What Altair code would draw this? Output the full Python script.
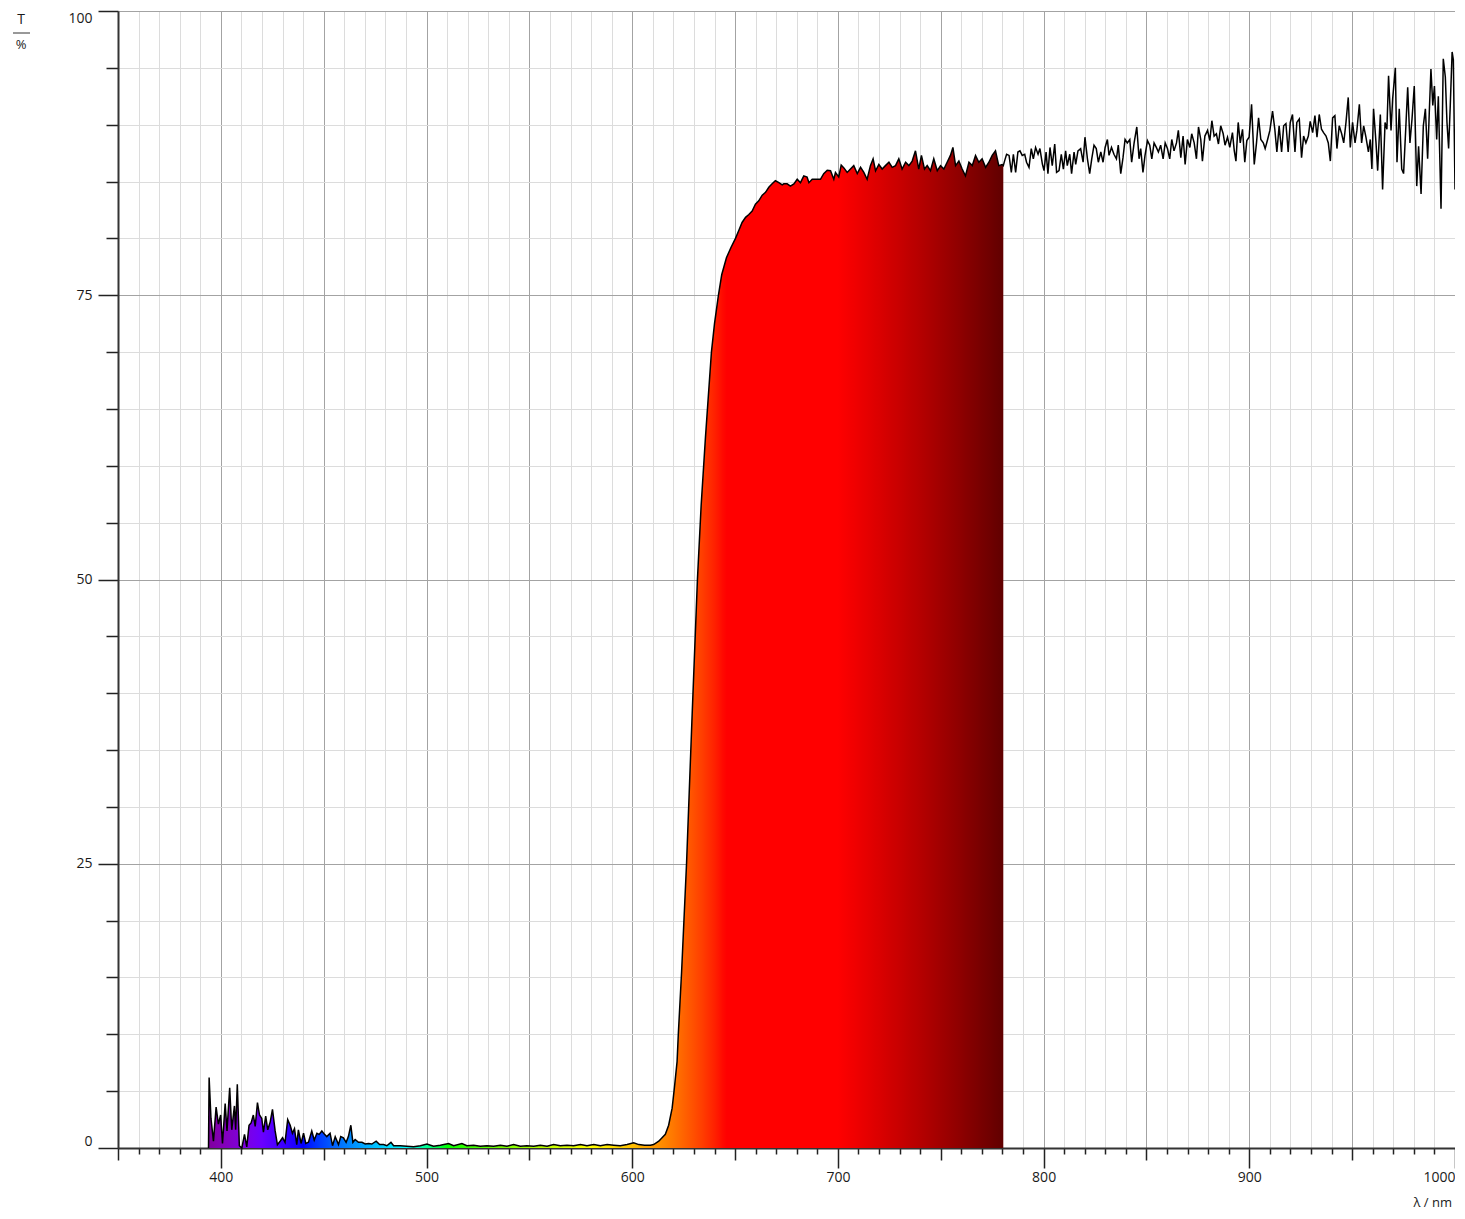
import altair as alt
import pandas as pd

# ---- data (wavelength nm, transmission %) ----
wl_violet = [394.0, 394.3, 395.2, 396.4, 397.7, 398.8, 399.9, 400.8, 402.1, 403.0, 404.3, 405.3,
             406.6, 407.2, 408.0, 409.0, 410.2, 411.5, 412.6, 413.7, 414.7, 415.8, 416.7, 417.8,
             418.8, 419.9, 420.7, 421.8, 422.8, 424.0, 425.1, 426.4, 427.5, 428.8, 430.0, 431.2,
             432.5, 433.7, 434.8, 435.8, 436.9, 437.7, 439.0, 440.2, 441.3, 442.6, 444.2, 445.4,
             446.7, 447.8, 449.1, 450.4, 451.5, 453.1, 454.3, 455.6, 457.2, 458.3, 459.6, 460.9,
             462.0, 463.2, 464.2, 465.3, 466.9, 468.6, 470.2, 471.8, 473.4, 475.5, 477.2, 479.1,
             480.7, 482.7, 484.0]
t_violet = [0.0, 6.2, 2.6, 0.6, 3.6, 2.1, 2.9, 0.4, 3.9, 1.5, 5.3, 1.6,
            3.7, 1.6, 5.6, 0.2, 0.0, 1.2, 0.1, 2.0, 2.2, 2.9, 1.9, 4.0,
            2.9, 2.6, 1.4, 2.8, 1.6, 2.3, 3.4, 1.5, 0.3, 0.6, 0.9, 0.5,
            2.5, 2.0, 1.3, 1.7, 0.3, 1.6, 0.4, 1.3, 0.4, 0.5, 1.5, 0.7,
            1.3, 1.2, 1.5, 1.2, 1.0, 1.3, 0.2, 1.0, 0.3, 1.0, 0.9, 0.5,
            1.0, 2.0, 0.5, 0.75, 0.5, 0.5, 0.35, 0.4, 0.35, 0.6, 0.3, 0.3,
            0.2, 0.5, 0.2]

wl_low = [487.2, 490.4, 493.7, 497.0, 500.2, 503.4, 506.7, 510.7, 513.2, 517.2, 519.6, 522.9,
          526.1, 529.4, 532.6, 535.9, 539.1, 542.3, 545.6, 548.8, 552.1, 555.3, 558.6, 561.8,
          565.0, 568.3, 571.5, 574.8, 578.0, 581.3, 584.5, 587.8, 591.0, 594.2, 597.5, 600.7,
          603.2, 606.0, 608.8, 610.4, 612.9]
t_low = [0.2, 0.15, 0.1, 0.2, 0.35, 0.15, 0.25, 0.4, 0.2, 0.4, 0.2, 0.25,
         0.15, 0.2, 0.15, 0.25, 0.15, 0.3, 0.15, 0.2, 0.15, 0.25, 0.15, 0.3,
         0.2, 0.25, 0.2, 0.3, 0.2, 0.3, 0.2, 0.3, 0.25, 0.2, 0.3, 0.45,
         0.3, 0.25, 0.25, 0.3, 0.6]

wl_edge = [614.5, 616.1, 617.7, 619.4, 620.5, 621.8, 622.4, 624.0, 626.4, 629.0, 631.7, 633.5,
           635.6, 638.5, 640.0, 641.9, 643.5, 645.8, 648.0, 650.2]
t_edge = [0.9, 1.2, 2.0, 3.5, 5.3, 7.6, 10.0, 15.5, 25.0, 37.5, 50.0, 56.5,
          62.5, 70.0, 72.5, 75.0, 76.8, 78.3, 79.2, 80.0]

wl_plateau = [651.8, 653.4, 655.1, 656.7, 658.3, 659.9, 661.5, 663.2, 664.8, 666.4, 668.0, 669.6,
              671.3, 672.9, 673.7, 675.3, 676.9, 678.6, 680.2, 681.8, 683.4, 685.0, 685.9, 687.5,
              689.9, 691.5, 693.1, 694.8, 696.4, 698.0, 698.8, 700.4, 701.6, 702.9, 704.5, 706.1,
              707.7, 709.4, 711.0, 712.6, 714.2, 715.8, 717.1, 718.3, 719.9, 721.5, 723.1, 724.8,
              726.4, 728.0, 729.6, 731.2, 732.9, 734.5, 736.1, 737.7, 739.3, 740.6, 742.1, 743.4,
              745.0, 746.6, 748.3, 749.9, 751.5, 753.1, 754.7, 755.9, 757.2, 758.8, 760.4, 762.0,
              763.7, 765.3, 766.9, 768.5, 770.1, 771.8, 773.4, 775.0, 776.6, 778.2, 779.8, 780.4]
t_plateau = [80.7, 81.4, 81.85, 82.1, 82.4, 83.0, 83.3, 83.8, 84.05, 84.5, 84.8, 85.07,
             84.9, 84.7, 84.8, 84.8, 84.6, 84.8, 85.2, 84.9, 85.5, 85.4, 84.9, 85.2,
             85.2, 85.2, 85.7, 86.0, 85.95, 85.2, 85.8, 85.4, 86.45, 86.2, 85.8, 86.1,
             86.4, 85.7, 86.25, 85.8, 85.2, 86.4, 87.0, 85.95, 86.5, 86.1, 86.4, 86.7,
             86.25, 86.4, 87.0, 86.1, 86.7, 86.4, 86.8, 87.7, 86.1, 87.3, 86.1, 86.4,
             85.95, 87.0, 85.95, 86.4, 86.1, 86.7, 87.3, 88.0, 86.4, 86.8, 86.1, 85.5,
             86.7, 86.4, 87.3, 86.7, 87.0, 86.25, 86.7, 87.3, 87.7, 86.4, 86.5, 86.4]

wl_nir = [781.0, 782.0, 783.2, 784.3, 785.3, 786.4, 787.5, 788.5, 789.6, 790.8, 791.7, 792.9,
          794.0, 795.0, 796.1, 797.3, 798.2, 799.4, 800.2, 801.2, 802.1, 803.1, 804.2, 805.4,
          806.3, 807.5, 808.6, 809.6, 810.7, 811.5, 812.7, 813.6, 814.8, 815.6, 816.7, 818.0,
          819.2, 820.1, 821.3, 822.4, 823.4, 824.5, 825.6, 826.6, 827.8, 828.9, 829.9, 831.0,
          831.8, 833.0, 834.2, 835.4, 836.3, 837.5, 838.6, 839.6, 840.7, 841.9, 842.8, 844.0,
          845.3, 846.4, 847.2, 848.3, 849.3, 850.5, 851.6, 852.6, 853.7, 854.8, 855.8, 856.9,
          858.1, 859.1, 860.2, 861.3, 862.3, 863.4, 864.6, 865.5, 866.7, 867.8, 868.8, 869.9,
          871.1, 872.0, 873.2, 874.3, 875.3, 876.4, 877.2, 878.4, 879.7, 880.8, 881.8, 882.9,
          884.0, 885.0, 886.1, 887.3, 888.2, 889.4, 890.5, 891.8, 892.7, 893.5, 894.6, 895.6,
          896.7, 897.8, 898.8, 899.9, 901.1, 902.4, 903.5, 904.5, 905.6, 906.8, 907.7, 908.9,
          910.0, 911.3, 912.4, 913.4, 914.5, 915.7, 916.7, 917.8, 918.9, 919.9, 921.0, 922.2,
          923.1, 924.3, 925.4, 926.4, 927.5, 928.7, 929.6, 930.8, 931.9, 932.9, 934.0, 935.1,
          936.1, 937.3, 938.4, 939.4, 940.5, 941.6, 942.6, 943.7, 944.9, 945.9, 947.0, 948.1,
          949.1, 950.2, 951.4, 952.3, 953.5, 954.6, 955.6, 956.7, 957.9, 958.8, 959.6, 960.4,
          961.6, 962.4, 963.7, 964.8, 966.0, 966.9, 967.7, 968.9, 969.7, 971.0, 971.8, 972.9,
          974.1, 975.0, 976.2, 977.0, 978.1, 979.1, 980.2, 981.4, 982.3, 983.5, 984.6, 985.6,
          986.7, 987.5, 988.3, 989.2, 990.0, 991.1, 991.9, 993.2, 994.3, 995.3, 996.1, 996.9,
          997.7, 998.6, 999.2, 1000.0]
t_nir = [86.8, 87.4, 87.3, 85.8, 87.4, 85.8, 87.6, 87.7, 87.3, 87.4, 86.7, 86.25,
         87.9, 87.0, 88.0, 87.4, 87.9, 86.54, 85.96, 87.6, 85.7, 88.0, 86.4, 88.3,
         85.8, 85.96, 87.4, 86.1, 87.7, 86.4, 87.4, 85.7, 87.6, 86.5, 87.7, 87.9,
         86.7, 88.9, 87.0, 85.7, 87.0, 88.2, 87.9, 86.7, 87.6, 86.7, 88.0, 88.7,
         87.3, 88.0, 87.4, 87.0, 88.2, 85.7, 87.1, 88.7, 88.4, 88.7, 86.7, 88.4,
         89.8, 87.0, 87.9, 85.8, 87.3, 88.6, 88.2, 87.0, 88.4, 88.0, 87.6, 88.2,
         87.0, 88.4, 87.9, 87.0, 88.7, 87.7, 88.4, 89.5, 87.1, 89.0, 86.5, 88.7,
         88.0, 89.2, 88.4, 87.0, 89.8, 88.7, 86.8, 89.0, 89.5, 88.6, 90.35, 89.0,
         89.2, 88.3, 89.9, 89.2, 88.2, 88.9, 88.0, 89.3, 87.7, 86.8, 90.2, 88.4,
         89.6, 86.7, 88.6, 88.9, 91.8, 86.5, 88.4, 90.6, 88.7, 88.4, 87.9, 88.7,
         89.5, 91.2, 89.6, 87.6, 89.9, 87.6, 89.9, 90.1, 87.6, 90.2, 90.9, 87.6,
         90.2, 90.5, 87.1, 89.0, 88.4, 89.0, 90.3, 89.3, 90.8, 88.9, 90.9, 89.6,
         89.3, 89.0, 88.4, 86.8, 90.6, 90.8, 87.9, 89.9, 89.2, 88.4, 90.2, 92.4,
         88.0, 90.2, 88.4, 89.5, 91.8, 88.4, 89.9, 88.9, 87.6, 88.7, 86.1, 91.4,
         88.4, 85.96, 90.9, 84.3, 90.2, 89.6, 94.3, 89.5, 92.3, 95.0, 86.7, 91.4,
         86.1, 85.7, 90.2, 93.3, 88.4, 90.5, 93.4, 84.6, 88.1, 83.9, 89.9, 91.4,
         87.0, 91.1, 94.9, 91.7, 93.4, 88.7, 92.5, 82.6, 95.8, 94.2, 90.2, 87.9,
         91.7, 96.4, 95.7, 84.3]

x_tick_values = list(range(350, 1001, 10))
y_tick_values = list(range(0, 101, 5))

wl_all = wl_violet + wl_low + wl_edge + wl_plateau + wl_nir
t_all = t_violet + t_low + t_edge + t_plateau + t_nir
df = pd.DataFrame({"wl": wl_all, "T": t_all})

FILL_START, FILL_END = 394.0, 780.4


def wl_rgb(w):
    if w < 440:
        r, g, b = -(w - 440) / 60.0, 0.0, 1.0
    elif w < 490:
        r, g, b = 0.0, (w - 440) / 50.0, 1.0
    elif w < 510:
        r, g, b = 0.0, 1.0, -(w - 510) / 20.0
    elif w < 580:
        r, g, b = (w - 510) / 70.0, 1.0, 0.0
    elif w < 645:
        r, g, b = 1.0, -(w - 645) / 65.0, 0.0
    else:
        r, g, b = 1.0, 0.0, 0.0
    if w < 420:
        f = 0.3 + 0.7 * (w - 380) / 40.0
    elif w <= 700:
        f = 1.0
    else:
        f = 0.3 + 0.7 * (780 - w) / 80.0

    def c(v):
        return 0 if v <= 0 else int(round(255 * (v * f) ** 0.8))

    return "#%02x%02x%02x" % (c(r), c(g), c(b))


stops = []
w = FILL_START
while w <= FILL_END + 1e-9:
    stops.append(alt.GradientStop(offset=(w - FILL_START) / (FILL_END - FILL_START), color=wl_rgb(w)))
    w += 2.0
stops.append(alt.GradientStop(offset=1.0, color=wl_rgb(780.0)))

W, H = 1337, 1137
FONT = "Open Sans"

x_scale = alt.Scale(domain=[350, 1000], nice=False, zero=False)
y_scale = alt.Scale(domain=[0, 100], nice=False, zero=False)

x_axis = alt.Axis(
    values=x_tick_values,
    grid=True,
    gridColor={"condition": {"test": "datum.value % 50 === 0", "value": "#a3a3a3"}, "value": "#dcdcdc"},
    gridWidth=1,
    tickSize={"condition": [{"test": "datum.value % 100 === 0", "value": 20},
                            {"test": "datum.value % 50 === 0", "value": 12}], "value": 6},
    tickColor="#222222",
    tickWidth=1.5,
    domainColor="#333333",
    domainWidth=2,
    format="d",
    labelExpr="datum.value % 100 === 0 && datum.value >= 400 ? datum.label : ''",
    labelFlush=True,
    labelOverlap=False,
    labelPadding=2,
    labelFont=FONT,
    labelFontSize=14,
    labelColor="#1a1a1a",
    title=None,
)
y_axis = alt.Axis(
    values=y_tick_values,
    grid=True,
    gridColor={"condition": {"test": "datum.value % 25 === 0", "value": "#a3a3a3"}, "value": "#dcdcdc"},
    gridWidth=1,
    tickSize={"condition": {"test": "datum.value % 25 === 0", "value": 20}, "value": 12},
    tickColor="#222222",
    tickWidth=1.5,
    domainColor="#333333",
    domainWidth=2,
    format="d",
    labelExpr="datum.value % 25 === 0 ? datum.label : ''",
    labelFlush=True,
    labelOverlap=False,
    labelPadding=6,
    labelFont=FONT,
    labelFontSize=14,
    labelColor="#1a1a1a",
    title=None,
)

base = alt.Chart(df)

area = base.transform_filter(f"datum.wl <= {FILL_END + 0.01}").mark_area(
    color=alt.Gradient(gradient="linear", stops=stops, x1=0, x2=1, y1=0, y2=0),
    line=False,
).encode(
    x=alt.X("wl:Q", scale=x_scale, axis=x_axis),
    y=alt.Y("T:Q", scale=y_scale, axis=y_axis),
)

line = base.mark_line(color="#000000", strokeWidth=1.5).encode(
    x=alt.X("wl:Q", scale=x_scale, axis=x_axis),
    y=alt.Y("T:Q", scale=y_scale, axis=y_axis),
)

one = pd.DataFrame({"k": [0]})
t_label = alt.Chart(one).mark_text(font=FONT, fontSize=14, color="#1a1a1a", baseline="middle", align="center").encode(
    x=alt.value(-97), y=alt.value(9), text=alt.value("T"))
pct_label = alt.Chart(one).mark_text(font=FONT, fontSize=13, color="#1a1a1a", baseline="middle", align="center").encode(
    x=alt.value(-97), y=alt.value(34), text=alt.value("%"))
frac_line = alt.Chart(one).mark_rule(color="#333333", strokeWidth=1).encode(
    x=alt.value(-105), x2=alt.value(-88), y=alt.value(22))
lam_label = alt.Chart(one).mark_text(font=FONT, fontSize=13, color="#1a1a1a", baseline="middle", align="right").encode(
    x=alt.value(1334), y=alt.value(1192), text=alt.value("λ / nm"))

chart = alt.layer(area, line, t_label, pct_label, frac_line, lam_label).properties(
    width=W,
    height=H,
    padding={"left": 110, "top": 3, "right": 0, "bottom": 62},
    autosize=alt.AutoSizeParams(type="none"),
).configure_view(stroke=None).configure(background="#ffffff")

chart.save("out.html", embed_options={"renderer": "svg", "actions": False})
